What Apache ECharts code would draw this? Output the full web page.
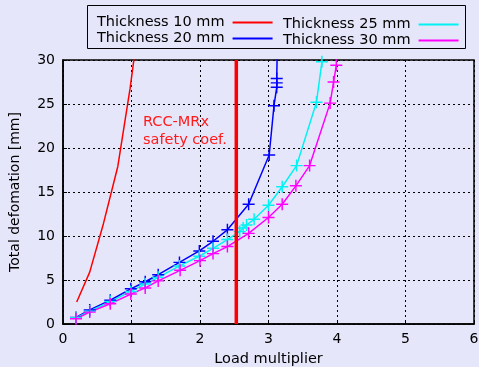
<!DOCTYPE html>
<html>
<head>
<meta charset="utf-8">
<script src="https://cdn.jsdelivr.net/npm/echarts@6/dist/echarts.min.js"></script>
<style>
html,body{margin:0;padding:0;background:#e6e6fa;}
#c{width:479px;height:367px;}
</style>
</head>
<body>
<div id="c"></div>
<script>
// ---- data ----
const seriesNames = ['Thickness 10 mm', 'Thickness 20 mm', 'Thickness 25 mm', 'Thickness 30 mm'];
const t10 = [[0.2, 2.5], [0.39, 5.9], [0.59, 11.4], [0.8, 17.9], [0.98, 26.8], [1.06, 31.5]];
const t20 = [[0.19, 0.75], [0.39, 1.6], [0.69, 2.7], [0.99, 4.0], [1.2, 4.8], [1.39, 5.6], [1.7, 7.0],
             [1.99, 8.3], [2.19, 9.4], [2.4, 10.7], [2.71, 13.6], [3.01, 19.2], [3.08, 24.8],
             [3.12, 26.9], [3.12, 27.4], [3.12, 27.9], [3.13, 32]];
const t25 = [[0.19, 0.7], [0.39, 1.45], [0.69, 2.55], [0.99, 3.7], [1.2, 4.55], [1.39, 5.3], [1.7, 6.6],
             [1.99, 7.7], [2.19, 8.6], [2.4, 9.6], [2.58, 10.5], [2.63, 10.9], [2.68, 11.25],
             [2.79, 11.9], [3.0, 13.5], [3.2, 15.6], [3.41, 18.0], [3.7, 25.2], [3.78, 29.8]];
const t30 = [[0.19, 0.6], [0.39, 1.35], [0.69, 2.3], [0.99, 3.4], [1.2, 4.1], [1.39, 4.9], [1.71, 6.1],
             [2.0, 7.2], [2.19, 8.0], [2.4, 8.8], [2.71, 10.3], [3.0, 12.1], [3.2, 13.6], [3.4, 15.7],
             [3.6, 18.0], [3.9, 25.1], [3.95, 27.5], [3.99, 29.4]];
const safetyCoef = 2.53;
const annotationText = 'RCC-MRx\nsafety coef.';
const xTicks = { min: 0, max: 6, interval: 1 };
const yTicks = { min: 0, max: 30, interval: 5 };

// ---- chart ----
const font = 'DejaVu Sans';
const plus = 'path://M0,4.4 H10 V5.6 H0 Z M4.4,0 H5.6 V10 H4.4 Z';
const colors = ['#ff0000', '#0000ff', '#00f2f2', '#ff00ff'];

function lineSeries(name, data, color, withMarker) {
  return {
    name: name, type: 'line', data: data, color: color,
    showSymbol: withMarker, symbol: withMarker ? plus : 'none', symbolSize: 12,
    lineStyle: { color: color, width: 1.5 },
    itemStyle: { color: color },
    clip: true, animation: false, z: 3
  };
}

const chart = echarts.init(document.getElementById('c'), null, { renderer: 'canvas' });
chart.setOption({
  backgroundColor: '#e6e6fa',
  animation: false,
  textStyle: { fontFamily: font },
  grid: { left: 63, right: 5, top: 60, bottom: 43, containLabel: false, outerBoundsMode: 'none',
          show: true, borderColor: '#000', borderWidth: 1.5, backgroundColor: 'transparent' },
  legend: [
    { data: [seriesNames[0], seriesNames[1]], orient: 'vertical', left: 92, top: 10, align: 'right',
      itemWidth: 40, itemHeight: 2, itemGap: 1, icon: 'rect',
      textStyle: { fontFamily: font, fontSize: 14.5, color: '#000', padding: [0, 3, 0, 0] } },
    { data: [seriesNames[2], seriesNames[3]], orient: 'vertical', left: 278, top: 12, align: 'right',
      itemWidth: 40, itemHeight: 2, itemGap: 1, icon: 'rect',
      textStyle: { fontFamily: font, fontSize: 14.5, color: '#000', padding: [0, 3, 0, 0] } }
  ],
  graphic: [
    { type: 'rect', shape: { x: 87.5, y: 5.5, width: 378, height: 43 }, style: { fill: 'none', stroke: '#000', lineWidth: 1 }, z: 10, silent: true },
    { type: 'text', left: 143, top: 113, style: { text: annotationText, fill: '#ff1a1a', font: '14.5px "DejaVu Sans"', lineHeight: 18 }, z: 10 }
  ],
  xAxis: {
    type: 'value', min: xTicks.min, max: xTicks.max, interval: xTicks.interval,
    name: 'Load multiplier', nameLocation: 'middle', nameGap: 28,
    nameTextStyle: { fontFamily: font, fontSize: 14.5, color: '#000' },
    axisLine: { show: true, lineStyle: { color: '#000', width: 1.5 } },
    axisTick: { show: true, inside: true, length: 4, lineStyle: { color: '#000' } },
    axisLabel: { fontFamily: font, fontSize: 14, color: '#000', margin: 8 },
    splitLine: { show: true, lineStyle: { color: '#000', type: [2, 3], width: 1 } }
  },
  yAxis: {
    type: 'value', min: yTicks.min, max: yTicks.max, interval: yTicks.interval,
    name: 'Total defomation [mm]', nameLocation: 'middle', nameGap: 41,
    nameTextStyle: { fontFamily: font, fontSize: 14, color: '#000' },
    axisLine: { show: true, lineStyle: { color: '#000', width: 1.5 } },
    axisTick: { show: true, inside: true, length: 4, lineStyle: { color: '#000' } },
    axisLabel: { fontFamily: font, fontSize: 14, color: '#000', margin: 8 },
    splitLine: { show: true, lineStyle: { color: '#000', type: [2, 3], width: 1 } }
  },
  series: [
    lineSeries(seriesNames[0], t10, colors[0], false),
    lineSeries(seriesNames[1], t20, colors[1], true),
    lineSeries(seriesNames[2], t25, colors[2], true),
    lineSeries(seriesNames[3], t30, colors[3], true),
    { name: 'safety', type: 'line', data: [[safetyCoef, yTicks.min], [safetyCoef, yTicks.max]],
      symbol: 'none', lineStyle: { color: '#ff0000', width: 3.5 }, z: 4, animation: false, silent: true }
  ]
});
</script>
</body>
</html>
